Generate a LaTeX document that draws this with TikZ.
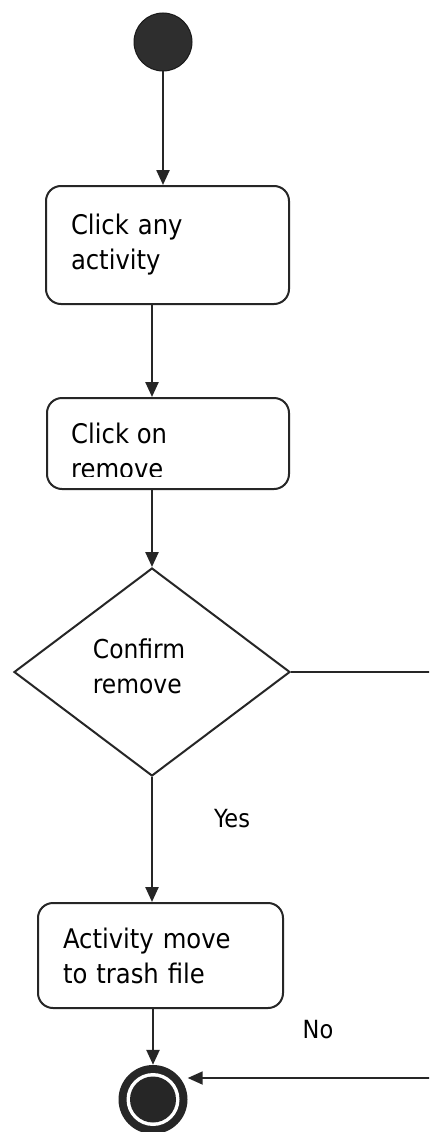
\documentclass[tikz,border=0pt]{standalone}
\usepackage{fontspec}
\setmainfont{DejaVu Sans Condensed}
\usetikzlibrary{arrows.meta,shapes.geometric}
\begin{document}
\begin{tikzpicture}[x=1pt,y=-1pt,
  act/.style={draw=black!85, line width=2pt, rounded corners=15pt, inner sep=0pt,
    align=left, font=\fontsize{27}{35}\selectfont},
  flow/.style={draw=black!85, line width=2.4pt, -{Triangle[length=15pt,width=13pt]}},
  lbl/.style={font=\fontsize{25}{30}\selectfont, inner sep=0pt}]
\useasboundingbox (0,0) rectangle (429,1132);
\fill[white] (0,0) rectangle (429,1132);
\clip (0,0) rectangle (429,1132);

% start
\node[circle, fill=black!82, draw=black!90, line width=1pt, minimum size=58pt, inner sep=0pt] (start) at (163,42) {};

% boxes
\node[act, minimum width=243pt, minimum height=118pt, text width=193pt] (box1) at (167.5,245) {Click any\\activity};
\node[act, minimum width=242pt, minimum height=91pt] (box2) at (168,443.5) {};
\begin{scope}
  \clip (0,0) rectangle (429,476.5);
  \node[anchor=north west, inner sep=0pt, align=left, font=\fontsize{27}{35}\selectfont] (box2text) at (71,422.5) {Click on\\remove};
\end{scope}

% decision
\node[diamond, draw=black!85, line width=2pt, minimum width=276pt, minimum height=208pt, inner sep=0pt] (dec) at (152,672) {};
\node[align=left, inner sep=0pt, font=\fontsize{26}{35}\selectfont] (dectext) at (139,666) {Confirm\\remove};

\node[act, minimum width=245pt, minimum height=105pt, text width=195pt] (box3) at (160.5,955.5) {Activity move\\to trash file};

% end
\node[circle, fill=black!85, minimum size=69pt, inner sep=0pt] (end) at (153,1099.5) {};
\fill[white] (end.center) circle (26.5pt);
\fill[black!85] (end.center) circle (23pt);

% connectors
\draw[flow] (start.south) -- (start.south |- box1.north);
\draw[flow] (box1.south -| dec.north) -- (box2.north -| dec.north);
\draw[flow] (box2.south -| dec.north) -- (dec.north);
\draw[flow] (dec.south) -- (box3.north -| dec.south);
\draw[flow] (box3.south -| end.north) -- (end.north);

\coordinate (r1) at (436,672);
\coordinate (r2) at (436,1078);
\draw[draw=black!85, line width=1.8pt, -{Triangle[length=15pt,width=13pt]}] (dec.east) -- (r1) -- (r2) -- (r2 -| end.east);

\node[lbl] (yes) at (232,819) {Yes};
\node[lbl] (no) at (318,1030) {No};
\end{tikzpicture}
\end{document}
